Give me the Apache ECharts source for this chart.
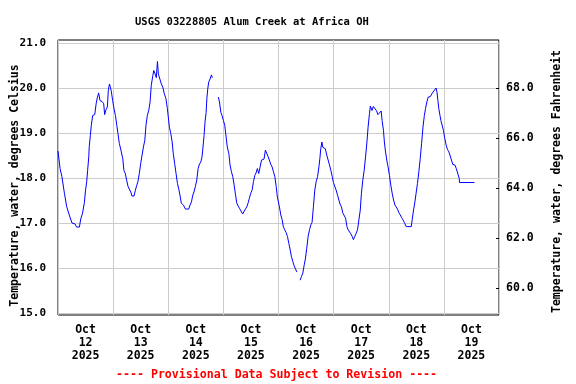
<!DOCTYPE html>
<html><head><meta charset="utf-8">
<script src="https://cdn.jsdelivr.net/npm/echarts@6/dist/echarts.min.js"></script>
<style>html,body{margin:0;padding:0;background:#fff}#c{width:576px;height:384px}</style>
</head><body><div id="c"></div>
<script>
// hours since Oct 12 2025 00:00
const hours = [0.0,0.9,1.7,2.8,3.8,4.9,6.1,7.4,8.1,9.3,9.9,10.7,11.5,11.9,12.5,12.9,13.4,13.6,14.1,14.5,15.1,16.0,16.6,17.1,17.7,18.3,19.2,19.9,20.3,20.9,21.5,21.9,22.4,22.8,23.2,23.8,24.4,25.0,25.6,26.1,26.7,27.4,28.2,28.7,29.3,29.9,30.5,31.1,31.7,32.2,33.1,33.7,34.3,34.8,35.4,36.0,36.6,37.2,37.8,38.3,38.9,39.5,40.1,40.6,41.3,41.7,42.3,42.8,43.3,43.7,44.3,45.0,45.6,46.3,47.0,47.6,48.5,49.1,49.7,50.2,50.8,51.4,52.0,52.6,53.1,53.7,54.6,55.5,56.9,57.5,58.1,58.7,59.2,59.8,60.4,61.0,61.6,62.2,62.7,63.0,63.6,64.0,64.5,64.8,65.2,65.6,66.2,66.8,67.2,68.5,69.8,70.3,70.9,71.4,72.0,72.6,73.2,73.7,74.4,74.9,75.5,76.1,76.7,77.2,77.8,78.4,79.0,79.6,80.4,81.0,81.6,82.2,82.8,83.3,83.9,84.5,85.1,85.7,86.2,86.8,87.4,88.0,88.6,89.2,89.7,90.3,90.9,91.5,92.0,92.6,93.2,93.8,94.4,95.0,95.5,96.4,97.0,97.6,98.1,98.7,99.3,99.9,100.5,101.1,101.6,102.2,102.8,103.4,104.0,104.7,105.4,106.0,106.6,107.2,107.7,108.3,108.9,109.5,110.1,110.6,111.2,111.8,112.4,113.0,113.6,114.0,114.4,114.9,115.3,115.9,116.4,117.0,117.6,118.2,118.8,119.4,119.9,120.5,121.1,121.7,122.3,122.8,123.4,124.0,124.6,125.2,125.8,126.3,126.9,127.5,128.1,128.6,129.2,129.8,130.4,131.0,131.6,132.1,132.7,133.3,133.9,134.5,135.0,135.6,136.0,136.7,137.3,138.0,138.6,139.3,140.0,140.7,141.1,141.7,142.1,142.6,143.2,143.7,144.3,144.9,145.5,146.1,146.7,147.2,147.8,148.4,149.0,149.5,150.1,150.8,151.6,153.8,154.2,154.8,155.4,155.9,156.5,157.1,157.7,158.3,158.9,159.5,160.0,160.6,161.2,162.1,163.0,163.8,164.6,165.0,165.4,165.8,166.3,166.7,167.3,167.8,168.4,169.0,169.6,170.2,170.8,171.3,171.9,172.8,173.4,174.2,174.7,174.8,181.3];
// water temperature, degrees Celsius (null = gap)
const tempC = [18.6,18.21,18.03,17.66,17.36,17.18,17.0,16.98,16.91,16.91,17.09,17.22,17.46,17.69,17.92,18.17,18.47,18.7,18.95,19.17,19.39,19.41,19.65,19.78,19.89,19.72,19.70,19.65,19.41,19.52,19.58,19.94,20.09,20.02,19.93,19.72,19.54,19.39,19.17,18.99,18.77,18.62,18.43,18.17,18.10,17.95,17.81,17.77,17.69,17.60,17.60,17.73,17.84,17.92,18.10,18.32,18.51,18.69,18.84,19.17,19.39,19.50,19.69,20.06,20.28,20.39,20.31,20.23,20.59,20.31,20.29,20.09,20.02,19.87,19.76,19.55,19.13,18.99,18.80,18.54,18.32,18.10,17.88,17.75,17.62,17.44,17.40,17.31,17.31,17.40,17.47,17.62,17.69,17.81,17.95,18.21,18.31,18.36,18.47,18.62,18.95,19.24,19.46,19.76,19.98,20.13,20.20,20.29,20.23,null,19.80,19.69,19.46,19.39,19.28,19.17,18.91,18.69,18.54,18.29,18.14,18.03,17.84,17.66,17.45,17.38,17.33,17.27,17.20,17.22,17.31,17.36,17.45,17.55,17.66,17.73,17.92,18.06,18.11,18.21,18.10,18.25,18.40,18.43,18.42,18.62,18.62,18.47,18.40,18.31,18.25,18.14,18.03,17.81,17.58,17.36,17.18,17.07,16.92,16.85,16.79,16.70,16.55,16.40,16.26,16.15,16.05,15.98,15.91,null,15.73,15.81,15.89,16.07,16.20,16.44,16.70,16.85,16.96,17.01,17.36,17.73,17.92,18.03,18.25,18.43,18.65,18.80,18.68,18.69,18.65,18.51,18.40,18.29,18.17,18.03,17.90,17.89,17.73,17.62,17.58,17.42,17.36,17.22,17.18,17.11,16.92,16.85,16.81,16.76,16.70,16.63,16.70,16.77,16.85,17.07,17.29,17.66,17.95,18.17,18.47,18.80,19.13,19.43,19.60,19.50,19.59,19.60,19.50,19.41,19.45,19.49,19.28,19.06,18.80,18.58,18.38,18.25,18.06,17.84,17.66,17.51,17.40,17.38,17.31,17.23,17.18,17.13,17.08,17.01,16.92,16.92,17.07,17.29,17.47,17.66,17.88,18.14,18.43,18.77,19.13,19.39,19.54,19.69,19.80,19.81,19.89,19.91,20.00,19.91,19.72,19.54,19.39,19.28,19.24,19.06,18.88,18.73,18.63,18.58,18.54,18.40,18.30,18.29,18.21,18.17,17.99,17.90,17.90];
const dayLabels = ['Oct\n12\n2025','Oct\n13\n2025','Oct\n14\n2025','Oct\n15\n2025','Oct\n16\n2025','Oct\n17\n2025','Oct\n18\n2025','Oct\n19\n2025'];
const celsiusTicks = [15,16,17,18,19,20,21];
const fahrenheitTicks = [60,62,64,66,68];
const yMinC = 14.956, yMaxC = 21.067;

const FONT = 'DejaVu Sans Mono';
const chart = echarts.init(document.getElementById('c'), null, {renderer:'canvas'});
chart.setOption({
  animation:false,
  backgroundColor:'#fff',
  title:[
    {text:'USGS 03228805 Alum Creek at Africa OH', left:130, top:12,
     textStyle:{fontFamily:FONT, fontWeight:'bold', fontSize:10.5, color:'#000'}},
    {text:'---- Provisional Data Subject to Revision ----', left:111, top:364,
     textStyle:{fontFamily:FONT, fontWeight:'bold', fontSize:11.6, color:'#ff0000'}}
  ],
  grid:{left:58, right:77, top:40, bottom:69, show:true, borderColor:'#000', borderWidth:1,
        backgroundColor:'transparent', outerBoundsMode:'none', containLabel:false},
  xAxis:[
    {type:'value', min:0, max:192, interval:24, axisLine:{show:false, onZero:false}, axisTick:{show:false}, axisLabel:{show:false},
     splitLine:{show:true, lineStyle:{color:'#cccccc', width:1}}},
    {type:'value', min:0, max:192, interval:12, position:'bottom', axisLine:{show:false, onZero:false}, axisTick:{show:false}, splitLine:{show:false},
     axisLabel:{show:true, margin:9, lineHeight:13, fontFamily:FONT, fontWeight:'bold', fontSize:11.5, color:'#000',
       formatter:function(v){ return (v % 24 === 12) ? dayLabels[(v-12)/24] : ''; }}}
  ],
  yAxis:[
    {type:'value', min:yMinC, max:yMaxC, position:'left',
     name:'Temperature, water, degrees Celsius', nameLocation:'middle', nameGap:37, nameRotate:90, nameMoveOverlap:false,
     nameTextStyle:{fontFamily:FONT, fontWeight:'bold', fontSize:11.5, color:'#000', padding:[0,16,0,0]},
     axisLine:{show:false, onZero:false}, axisTick:{show:false, customValues:celsiusTicks},
     axisLabel:{customValues:celsiusTicks, margin:12, fontFamily:FONT, fontWeight:'bold', fontSize:11, color:'#000',
       formatter:function(v){return v.toFixed(1);}},
     splitLine:{show:true, lineStyle:{color:'#cccccc', width:1}}},
    {type:'value', min:yMinC*1.8+32, max:yMaxC*1.8+32, position:'right',
     name:'Temperature, water, degrees Fahrenheit', nameLocation:'middle', nameGap:52, nameRotate:90,
     nameTextStyle:{fontFamily:FONT, fontWeight:'bold', fontSize:11.5, color:'#000', padding:[0,8,0,0]},
     axisLine:{show:false, onZero:false}, axisTick:{show:true, inside:true, length:3, customValues:fahrenheitTicks, lineStyle:{color:'#000'}},
     axisLabel:{customValues:fahrenheitTicks, margin:7, fontFamily:FONT, fontWeight:'bold', fontSize:11.5, color:'#000',
       formatter:function(v){return v.toFixed(1);}},
     splitLine:{show:false}}
  ],
  series:[{
    type:'line', xAxisIndex:0, yAxisIndex:0, showSymbol:false, connectNulls:false,
    lineStyle:{color:'#0000ff', width:1}, silent:true,
    data: hours.map(function(h,i){ return [h, tempC[i]]; })
  }]
});
</script></body></html>
